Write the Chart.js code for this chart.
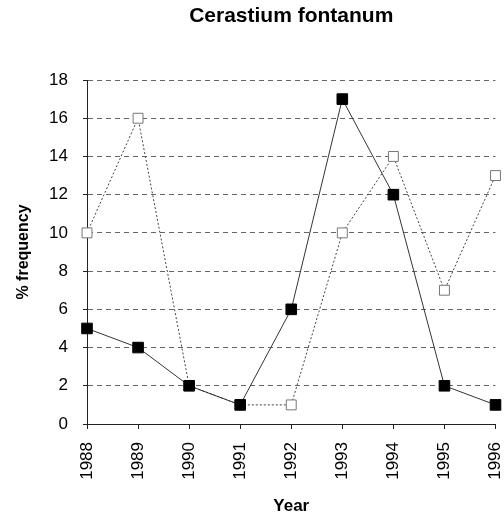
<!DOCTYPE html>
<html>
<head>
<meta charset="utf-8">
<script src="https://cdn.jsdelivr.net/npm/chart.js@4"></script>
<style>
  html, body { margin: 0; padding: 0; background: #fff; }
  #chart { display: block; }
</style>
</head>
<body>
<canvas id="chart" width="504" height="515"></canvas>
<script>
// data
const years = ['1988', '1989', '1990', '1991', '1992', '1993', '1994', '1995', '1996'];
const filledSeries = [5, 4, 2, 1, 6, 17, 12, 2, 1];
const openSeries = [10, 16, 2, 1, 1, 10, 14, 7, 13];
const yTicks = [0, 2, 4, 6, 8, 10, 12, 14, 16, 18];

const FONT = "'Liberation Sans', Arial, sans-serif";

const ctx = document.getElementById('chart').getContext('2d');
new Chart(ctx, {
    type: 'line',
    data: {
        labels: years,
        datasets: [{
            label: 'closed',
            data: filledSeries,
            borderColor: '#333',
            borderWidth: 1,
            pointStyle: 'rect',
            pointRadius: 7.5,
            pointBackgroundColor: '#000',
            pointBorderColor: '#000',
            tension: 0
        }, {
            label: 'open',
            data: openSeries,
            borderColor: '#444',
            borderWidth: 1,
            borderDash: [2, 2],
            pointStyle: 'rect',
            pointRadius: 7,
            pointBackgroundColor: '#fff',
            pointBorderColor: '#777',
            pointBorderWidth: 1,
            tension: 0
        }]
    },
    options: {
        responsive: false,
        animation: false,
        layout: { padding: { left: 16, right: 0, top: 0, bottom: 0 } },
        plugins: {
            legend: { display: false },
            tooltip: { enabled: false },
            title: {
                display: true,
                fullSize: false, // center over the plot, not the whole canvas
                text: 'Cerastium fontanum',
                color: '#000',
                font: { family: FONT, size: 21, weight: 'bold', lineHeight: 1.2 },
                padding: { top: 4, bottom: 50.8 }
            }
        },
        scales: {
            x: {
                offset: false,
                border: { display: true, color: '#222', width: 1 },
                grid: { display: true, drawOnChartArea: false, color: '#222', tickLength: 5 },
                ticks: {
                    color: '#000',
                    font: { family: FONT, size: 17 },
                    maxRotation: 90,
                    minRotation: 90,
                    padding: 13
                },
                title: {
                    display: true,
                    text: 'Year',
                    color: '#000',
                    font: { family: FONT, size: 17, weight: 'bold', lineHeight: 1 },
                    padding: { top: 18, bottom: 0 }
                },
                afterFit: scale => {
                    scale.height = 91;
                    scale.paddingRight = 8;
                    scale.paddingLeft = 0;
                }
            },
            y: {
                min: 0,
                max: 18,
                afterBuildTicks: axis => { axis.ticks = yTicks.map(v => ({ value: v })); },
                // border.dash is what makes the grid lines dashed in v4
                border: { display: true, color: '#222', width: 1, dash: [5, 4] },
                grid: {
                    color: '#666',
                    lineWidth: 1,
                    tickLength: 4,
                    tickColor: '#222',
                    tickBorderDash: []
                },
                ticks: {
                    color: '#000',
                    font: { family: FONT, size: 17 },
                    padding: 15
                },
                title: {
                    display: true,
                    text: '% frequency',
                    color: '#000',
                    font: { family: FONT, size: 16, weight: 'bold', lineHeight: 1 },
                    padding: { top: 0, bottom: 17 }
                },
                afterFit: scale => { scale.width = 71; }
            }
        }
    }
});
</script>
</body>
</html>
